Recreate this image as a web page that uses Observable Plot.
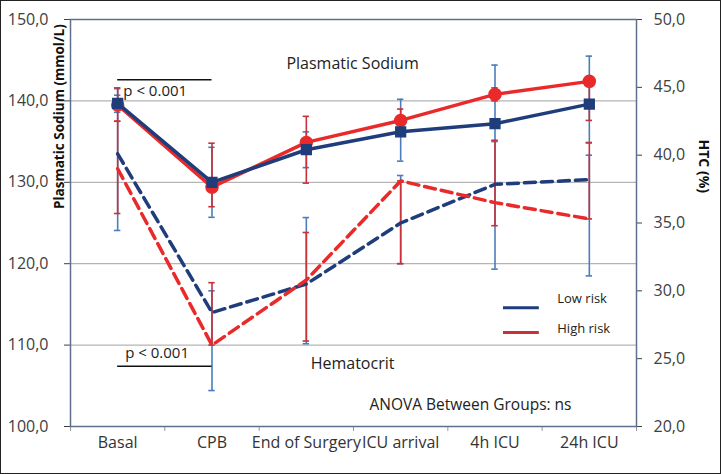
<!DOCTYPE html>
<html><head><meta charset="utf-8">
<script src="https://cdn.jsdelivr.net/npm/d3@7"></script>
<script src="https://cdn.jsdelivr.net/npm/@observablehq/plot@0.6"></script>
<style>
html,body{margin:0;padding:0;background:#fff;}
#chart svg{display:block;outline:1px solid #222;outline-offset:-1px;}
</style></head><body><div id="chart"></div>
<script>
const categories = ["Basal","CPB","End of Surgery","ICU arrival","4h ICU","24h ICU"];
// Plasmatic sodium (mmol/L), left axis
const sodiumLow  = [139.7, 130.0, 134.0, 136.2, 137.2, 139.6];
const sodiumHigh = [139.5, 129.4, 134.9, 137.6, 140.8, 142.4];
// Hematocrit (%), right axis
const htcLow  = [40.1, 28.4, 30.5, 35.0, 37.85, 38.2];
const htcHigh = [39.0, 26.0, 30.8, 38.1, 36.5, 35.3];
// error bar extents
const sodiumLowErrLo  = [138.6, 125.7, 131.8, 132.6, 135.1, 134.9];
const sodiumLowErrHi  = [140.7, 134.3, 136.2, 140.2, 144.4, 145.5];
const sodiumHighErrLo = [137.5, 127.0, 129.9, 136.6, 140.0, 137.6];
const sodiumHighErrHi = [141.6, 134.8, 138.1, 139.0, 141.6, 142.4];
const htcLowErrLo  = [34.45, 22.65, 26.1, 32.0, 31.6, 31.1];
const htcLowErrHi  = [44.9, 30.0, 35.4, 38.5, 41.0, 40.0];
const htcHighErrLo = [35.7, 26.0, 26.3, 32.0, 34.8, 35.3];
const htcHighErrHi = [42.5, 30.6, 34.3, 38.1, 41.1, 40.9];
// tick labels
const leftTicks = [100, 110, 120, 130, 140, 150];
const rightTicks = [20, 25, 30, 35, 40, 45, 50];
const gridValues = [110, 120, 130, 140];
const seriesNames = ["Low risk", "High risk"];

const BLUE = "#1f3d7a", RED = "#ea2a2a";
const BLUE_ERR = "#4a7ebb", RED_ERR = "#c8303a";

// map hematocrit (20..50) onto the shared y scale (100..150)
const htcToY = h => 100 + (h - 20) * 50 / 30;
const yToHtc = v => 20 + (v - 100) * 30 / 50;
const fmt = v => (Math.round(v * 10) / 10).toFixed(1).replace(".", ",");
const idx = categories.map((_, i) => i);

function rows(vals, lo, hi, conv) {
  return categories.map((c, i) => ({i, cat: c, v: conv(vals[i]), lo: conv(lo[i]), hi: conv(hi[i])}));
}
const id = v => v;
const naLow = rows(sodiumLow, sodiumLowErrLo, sodiumLowErrHi, id);
const naHigh = rows(sodiumHigh, sodiumHighErrLo, sodiumHighErrHi, id);
const hLow = rows(htcLow, htcLowErrLo, htcLowErrHi, htcToY);
const hHigh = rows(htcHigh, htcHighErrLo, htcHighErrHi, htcToY);

function errorBars(data, color) {
  const w = 0.034;
  return [
    Plot.ruleX(data, {x: "i", y1: "lo", y2: "hi", stroke: color, strokeWidth: 1.6}),
    Plot.ruleY(data, {y: "lo", x1: d => d.i - w, x2: d => d.i + w, stroke: color, strokeWidth: 1.6}),
    Plot.ruleY(data, {y: "hi", x1: d => d.i - w, x2: d => d.i + w, stroke: color, strokeWidth: 1.6})
  ];
}

const chart = Plot.plot({
  width: 721, height: 474,
  marginLeft: 70, marginRight: 85, marginTop: 19, marginBottom: 48,
  style: {fontFamily: "'Open Sans', sans-serif", background: "#fff", color: "#333"},
  x: {type: "linear", domain: [-0.5, 5.5], axis: null, label: null},
  y: {domain: [100, 150], axis: null, label: null},
  marks: [
    Plot.gridY(gridValues, {stroke: "#b5b5b5", strokeOpacity: 1, strokeWidth: 1.2}),
    // left axis
    Plot.axisY(leftTicks, {anchor: "left", label: null, tickSize: 6, tickPadding: 16, tickFormat: fmt, fontSize: 16, color: "#404040"}),
    // right axis (hematocrit)
    Plot.axisY(rightTicks.map(htcToY), {anchor: "right", label: null, tickSize: 5, tickPadding: 12, tickFormat: v => fmt(yToHtc(v)), fontSize: 16, color: "#404040"}),
    // x axis: boundary ticks and centred category labels
    Plot.axisX(d3.range(-0.5, 6, 1), {anchor: "bottom", label: null, tickSize: 5, tickFormat: () => "", color: "#999"}),
    Plot.axisX(idx, {anchor: "bottom", label: null, tickSize: 0, tickPadding: 10, tickFormat: i => categories[i], fontSize: 16, color: "#333"}),
    Plot.frame({stroke: "#5f6f8f", strokeWidth: 1.5}),
    // axis titles
    Plot.text(["Plasmatic Sodium (mmol/L)"], {text: d => d, frameAnchor: "left", rotate: -90, dx: -11, dy: -14, fontWeight: "bold", fontSize: 13.5, fill: "#111"}),
    Plot.text(["HTC (%)"], {text: d => d, frameAnchor: "right", rotate: 90, dx: 67, dy: -30, fontWeight: "bold", fontSize: 14, fill: "#111"}),
    // error bars
    ...errorBars(naLow, BLUE_ERR),
    ...errorBars(hLow, BLUE_ERR),
    ...errorBars(naHigh, RED_ERR),
    ...errorBars(hHigh, RED_ERR),
    // hematocrit dashed lines
    Plot.line(hLow, {x: "i", y: "v", stroke: BLUE, strokeWidth: 3.5, strokeDasharray: "11,6"}),
    Plot.line(hHigh, {x: "i", y: "v", stroke: RED, strokeWidth: 3.5, strokeDasharray: "11,6"}),
    // sodium solid lines
    Plot.line(naHigh, {x: "i", y: "v", stroke: RED, strokeWidth: 3.5}),
    Plot.dot(naHigh, {x: "i", y: "v", r: 6, fill: RED, stroke: RED}),
    Plot.line(naLow, {x: "i", y: "v", stroke: BLUE, strokeWidth: 3.5}),
    Plot.dot(naLow, {x: "i", y: "v", symbol: "square", r: 5.5, fill: BLUE, stroke: BLUE}),
    // annotations
    Plot.text(["Plasmatic Sodium"], {text: d => d, x: 2.49, y: 144.6, fontSize: 16, fill: "#222"}),
    Plot.text(["Hematocrit"], {text: d => d, x: 2.49, y: 107.7, fontSize: 16, fill: "#222"}),
    Plot.ruleY([142.6], {x1: 0, x2: 1, stroke: "#111", strokeWidth: 1.6}),
    Plot.text(["p < 0.001"], {text: d => d, x: 0.06, y: 141.2, textAnchor: "start", fontSize: 15, fill: "#222"}),
    Plot.ruleY([107.4], {x1: 0, x2: 1, stroke: "#111", strokeWidth: 1.6}),
    Plot.text(["p < 0.001"], {text: d => d, x: 0.08, y: 109.0, textAnchor: "start", fontSize: 15, fill: "#222"}),
    Plot.text(["ANOVA Between Groups: ns"], {text: d => d, x: 3.74, y: 102.6, fontSize: 15.5, fill: "#222"}),
    // legend
    Plot.ruleY([114.6], {x1: 4.09, x2: 4.47, stroke: BLUE, strokeWidth: 3}),
    Plot.ruleY([111.55], {x1: 4.09, x2: 4.47, stroke: RED_ERR, strokeWidth: 3}),
    Plot.text([seriesNames[0]], {text: d => d, x: 4.66, y: 115.7, textAnchor: "start", fontSize: 13, fill: "#222"}),
    Plot.text([seriesNames[1]], {text: d => d, x: 4.66, y: 112.0, textAnchor: "start", fontSize: 13, fill: "#222"})
  ]
});
document.getElementById("chart").append(chart);
</script></body></html>
